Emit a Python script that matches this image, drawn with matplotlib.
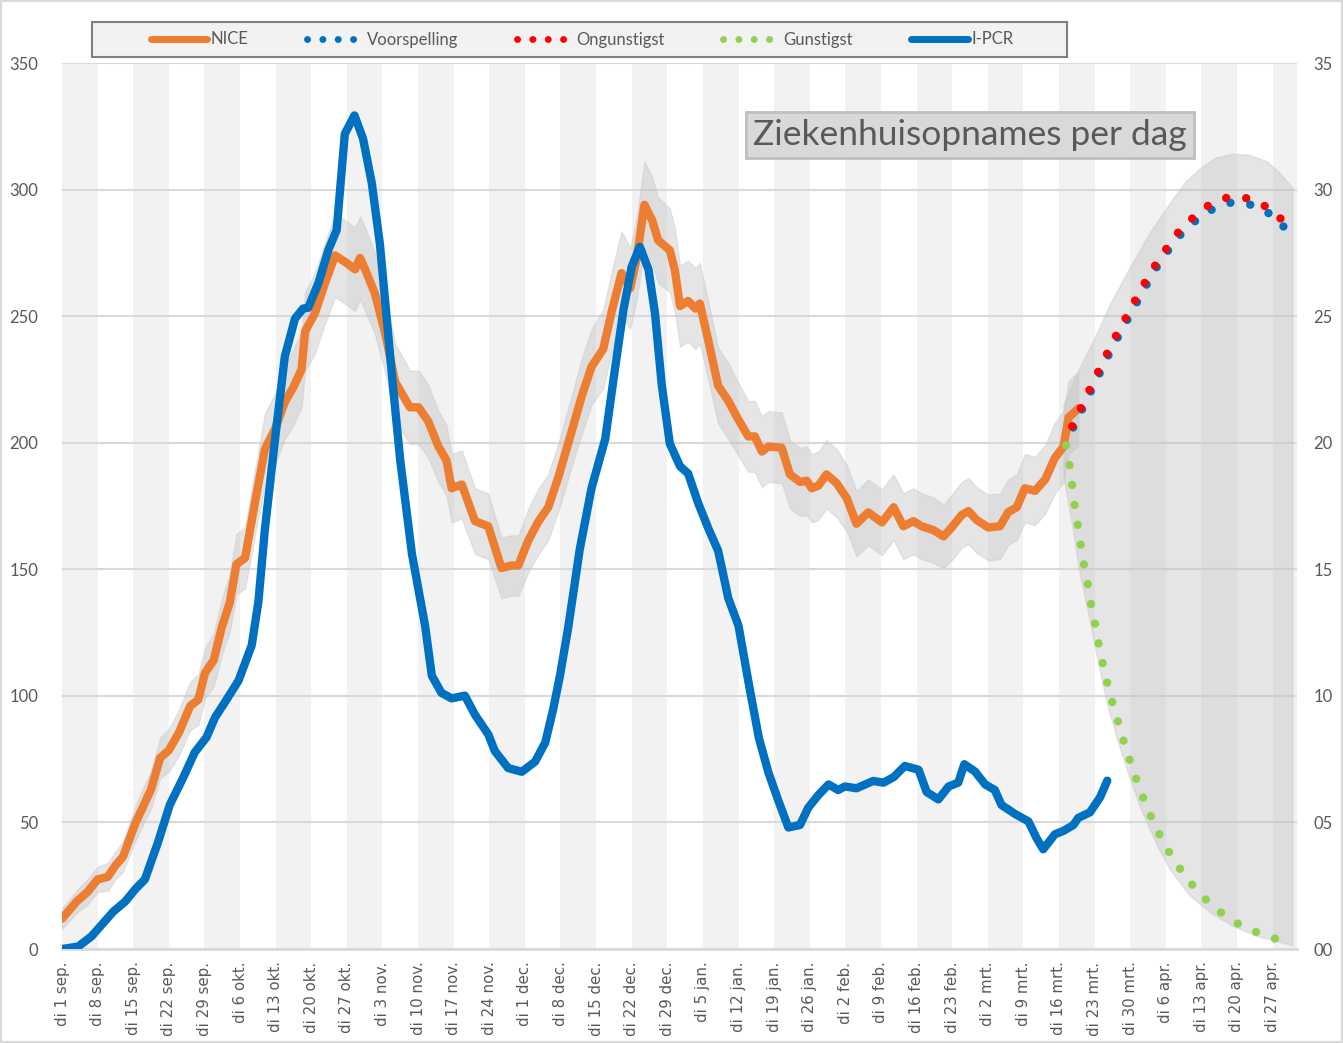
import matplotlib
matplotlib.use("Agg")
import matplotlib.pyplot as plt
from matplotlib.lines import Line2D
from matplotlib.patches import Rectangle
import numpy as np

plt.rcParams['font.family'] = ['Lato', 'DejaVu Sans']

# days counted from di 1 sep. 2020
week_labels = ["di 1 sep.", "di 8 sep.", "di 15 sep.", "di 22 sep.", "di 29 sep.",
               "di 6 okt.", "di 13 okt.", "di 20 okt.", "di 27 okt.", "di 3 nov.",
               "di 10 nov.", "di 17 nov.", "di 24 nov.", "di 1 dec.", "di 8 dec.",
               "di 15 dec.", "di 22 dec.", "di 29 dec.", "di 5 jan.", "di 12 jan.",
               "di 19 jan.", "di 26 jan.", "di 2 feb.", "di 9 feb.", "di 16 feb.",
               "di 23 feb.", "di 2 mrt.", "di 9 mrt.", "di 16 mrt.", "di 23 mrt.",
               "di 30 mrt.", "di 6 apr.", "di 13 apr.", "di 20 apr.", "di 27 apr."]

# NICE opnames (orange) + half width of its grey band
nice_days = [0, 3, 5, 7, 9, 10.5, 12, 14.5, 17.5, 19.3,
             21, 23, 25.2, 26.8, 28.1, 29.8, 31.4, 33, 34.3, 36,
             37.9, 39.9, 41.9, 43.8, 45.5, 47.1, 47.8, 49.7, 51.7, 53.7,
             55.6, 57.6, 58.6, 59.6, 61.5, 63.5, 65.5, 66.8, 68.4, 70.1,
             72, 74, 75.6, 76.6, 78.6, 81.2, 83.8, 86.4, 88.4, 89.7,
             91.7, 93.7, 95.6, 97.6, 100.2, 102.2, 104.1, 106.4, 108.1, 110,
             111.7, 113, 114.5, 116, 117.2, 119.5, 120.5, 121.5, 123.1, 124.5,
             125.4, 127.1, 129, 131, 132.6, 134.9, 136.2, 137.6, 138.9, 141.5,
             143.1, 145.1, 146.4, 147.4, 148.7, 150.3, 152.3, 154.3, 156.2, 158.5,
             161.2, 163.5, 165.4, 167.4, 169, 171.3, 173.3, 174.9, 176.9, 178.2,
             179.8, 182.1, 184.4, 186, 187.7, 189.3, 191.3, 193.3, 195.2, 196.9,
             197.9, 199.8]
nice_vals = [12, 19, 22.5, 27.5, 28.5, 33, 36.5, 50, 63, 75.5,
             78.5, 85.5, 96, 98.5, 109, 114, 127, 137, 152, 154.5,
             176, 197.5, 205.5, 216, 222, 229, 244, 251, 263, 274,
             271.5, 268.5, 273, 268.5, 259, 243.5, 224, 219.5, 214, 214,
             208.5, 198.5, 193, 182, 183.5, 169, 167, 150.5, 151.5, 151.5,
             161.5, 169, 174.5, 186.5, 204.5, 218.5, 230, 237, 252, 267,
             261, 273, 294, 288, 280, 276, 268, 254, 256, 253,
             255, 240, 222.5, 216.5, 210.5, 202.5, 202.5, 196.5, 198.5, 198,
             187.5, 184.5, 185, 182, 183, 187.5, 184, 178, 168, 172.5,
             168.5, 174.5, 167, 169, 167, 165.5, 163, 166.5, 171.5, 173,
             169.5, 166.5, 167, 172.5, 174.5, 182, 181, 185.5, 194, 198.5,
             210, 213.5]
nice_band = [4, 4.5, 5, 5, 5.5, 5.5, 6, 7, 7.5, 8,
             8.5, 9, 9.5, 10, 10, 10.5, 11, 11.5, 12, 12,
             13, 14, 14, 14.5, 15, 15, 15.5, 16, 16, 16.5,
             16.5, 16.5, 16.5, 16.5, 16, 15.5, 15, 15, 14.5, 14.5,
             14.5, 14, 14, 13.5, 13.5, 13, 13, 12, 12, 12,
             12.5, 13, 13, 13.5, 14, 15, 15, 15.5, 16, 16.5,
             16, 16.5, 17, 17, 17, 16.5, 16.5, 16, 16, 16,
             16, 15.5, 15, 15, 14.5, 14, 14, 14, 14, 14,
             13.5, 13.5, 13.5, 13.5, 13.5, 13.5, 13.5, 13, 13, 13,
             13, 13, 13, 13, 13, 13, 12.5, 13, 13, 13,
             13, 13, 13, 13, 13, 13.5, 13.5, 13.5, 14, 14,
             14.5, 14.5]

# I-PCR (blue)
pcr_days = [0, 3.2, 5.8, 10.1, 12.4, 14.4, 16.3, 18.9, 21.2, 23.9,
            26.1, 28.4, 30.1, 32, 34.7, 37.3, 38.6, 39.9, 41.9, 43.8,
            45.8, 47.4, 48.4, 50.4, 52.4, 54, 55.6, 57.5, 59.2, 60.9,
            62.5, 63.8, 65.1, 66.5, 68.8, 71.4, 72.7, 74.6, 76.6, 79.2,
            81.2, 83.8, 85.1, 87.7, 90.4, 93, 95, 96.6, 97.9, 99.5,
            101.8, 104.1, 106.8, 108.7, 110.4, 112, 113.6, 115.3, 116.6, 117.9,
            119.5, 121.5, 123.1, 125.1, 127.1, 129, 131, 133, 135, 137,
            138.9, 140.8, 142.8, 145.1, 146.7, 148.7, 150.7, 152.6, 153.9, 156.2,
            159.5, 161.5, 163.5, 165.7, 168.4, 170, 172.3, 174.3, 176.2, 177.4,
            179.5, 181.5, 183.4, 184.7, 187.4, 190, 191.6, 192.9, 195.2, 196.9,
            198.8, 199.8, 202.1, 204.1, 205.5]
pcr_vals = [0, 1, 5, 14.8, 18.7, 23.6, 27.5, 42.3, 57, 68,
            77.7, 83.6, 91.5, 97.4, 106, 120, 137, 166, 201.7, 234,
            249, 253, 253.3, 263, 276.3, 284, 322, 329.3, 320, 302.6,
            278.5, 250, 221.6, 193, 156, 127.5, 108, 101.2, 99, 100.1,
            92.5, 84.8, 78.2, 71.5, 70, 74, 81.5, 95, 108, 126.7,
            158, 182, 201.5, 229, 252.7, 269.5, 277.4, 268.5, 250.8, 223,
            199.6, 190.7, 187.8, 176, 166, 157.3, 138.5, 127.7, 105, 83.4,
            69.6, 58.8, 48, 49, 55.8, 60.8, 65, 62.8, 64.2, 63.5,
            66.4, 65.7, 67.9, 72.3, 70.8, 62, 59.1, 64.2, 65.7, 73,
            70.1, 65, 62.8, 56.9, 53.3, 50.4, 43.8, 39.4, 45.3, 46.7,
            48.9, 51.8, 54, 60, 66.5]

# forecasts
fc_days = [198.8, 200.5, 202.2, 203.9, 205.6, 207.4, 209.3, 211.2, 213.1, 215.1,
           217.3, 219.7, 222.6, 226, 230, 233.7, 237.3, 240.2, 242.5]
fc_vals = [206, 213, 220, 227, 234, 241, 248, 255, 262, 269,
           275.5, 281.8, 287.3, 292, 295, 294, 290.6, 285.3, 281]
worst_days = [198.6, 200.3, 202, 203.7, 205.4, 207.2, 209.1, 211, 212.9, 214.9,
              217.1, 219.4, 222.2, 225.3, 228.8, 232.7, 236.4, 239.5, 242.1]
worst_vals = [206.5, 213.7, 220.9, 228, 235, 242.2, 249.2, 256.3, 263.3, 270,
              276.6, 283, 288.6, 293.6, 296.7, 296.7, 293.6, 288.7, 282.8]
best_days = [197.4, 198.1, 198.6, 199.1, 199.7, 200.3, 200.9, 201.7, 202.3, 203.1,
             203.8, 204.6, 205.5, 206.5, 207.6, 208.7, 209.9, 211.2, 212.6, 214.1,
             215.8, 217.7, 219.8, 222.2, 224.9, 227.8, 231.2, 234.8, 238.5]
best_vals = [199, 191, 183, 175, 167.6, 159.6, 151.9, 144, 136.4, 128.4,
             120.6, 112.8, 105, 97.5, 89.9, 82.3, 74.7, 67.1, 59.5, 52.3,
             45.1, 38.2, 31.7, 25.4, 19.5, 14.5, 10, 6.7, 4.1]

# forecast uncertainty area
env_up_days = [197, 198.5, 200, 202.7, 206, 210, 214, 218.4, 221, 224.3,
               227, 230.2, 233.5, 236.9, 239.5, 242]
env_up_vals = [215, 222, 229, 239.5, 254, 269, 283, 296, 303, 309,
               312.5, 314, 313.5, 311, 306.5, 300.5]
env_lo_days = [197, 198.8, 200, 202.1, 203.8, 205.5, 207.5, 209.4, 212, 215.3,
               218, 221.8, 226, 230.2, 235, 242]
env_lo_vals = [186, 166, 150, 130, 113, 97, 83, 71, 56, 41,
               31, 21, 14, 9, 5, 1.3]

ORANGE = '#ED7D31'
BLUE = '#0070C0'
RED = '#FF0000'
GREEN = '#92D050'
TXT = '#595959'
XMAX = 242.8

fig = plt.figure(figsize=(13.43, 10.43), dpi=100)
ax = fig.add_axes([62 / 1343, 94 / 1043, 1235 / 1343, 886 / 1043])

# alternating week columns
for k in range(0, len(week_labels), 2):
    ax.axvspan(7 * k, 7 * k + 7, color='#f2f2f2', lw=0, zorder=0)

nd = np.array(nice_days)
nv = np.array(nice_vals)
nb = np.array(nice_band)
ax.fill_between(nd, nv - nb, nv + nb, facecolor='#bfbfbf', alpha=0.4,
                edgecolor='#c8c8c8', lw=1, zorder=2)
ax.fill(np.concatenate([env_up_days, env_lo_days[::-1]]),
        np.concatenate([env_up_vals, env_lo_vals[::-1]]),
        facecolor='#bfbfbf', alpha=0.4, edgecolor='#c8c8c8', lw=1.2, zorder=2)

ax.plot(nice_days, nice_vals, color=ORANGE, lw=6, solid_capstyle='round',
        solid_joinstyle='round', zorder=3)
dots = (0, (0.01, 2.4))
ax.plot(best_days, best_vals, color=GREEN, lw=6, ls=dots, dash_capstyle='round', zorder=4)
ax.plot(fc_days, fc_vals, color=BLUE, lw=6, ls=dots, dash_capstyle='round', zorder=4)
ax.plot(worst_days, worst_vals, color=RED, lw=6, ls=dots, dash_capstyle='round', zorder=5)
ax.plot(pcr_days, pcr_vals, color=BLUE, lw=6, solid_capstyle='round',
        solid_joinstyle='round', zorder=6)

ax.set_xlim(0, XMAX)
ax.set_ylim(0, 350)
ax.set_yticks(range(0, 351, 50))
ax.set_axisbelow(True)
ax.yaxis.grid(True, color='#d9d9d9', lw=1.5)
ax.set_xticks([7 * k for k in range(len(week_labels))])
ax.set_xticklabels(week_labels, rotation=90, fontsize=10.8, color=TXT,
                   family='DejaVu Sans')
ax.tick_params(axis='x', length=0, pad=9)
ax.tick_params(axis='y', length=0, pad=17, labelsize=12, labelcolor=TXT)
for s in ['left', 'right', 'top']:
    ax.spines[s].set_visible(False)
ax.spines['bottom'].set_color('#d9d9d9')
ax.spines['bottom'].set_linewidth(2)

ax2 = ax.twinx()
ax2.set_ylim(0, 35)
ax2.set_yticks(range(0, 36, 5))
ax2.set_yticklabels([f"{v:02d}" for v in range(0, 36, 5)])
ax2.tick_params(axis='y', length=0, pad=12, labelsize=12, labelcolor=TXT)
for s in ax2.spines.values():
    s.set_visible(False)

# legend
fig.add_artist(Rectangle((92 / 1343, 1 - 57 / 1043), 975 / 1343, 35 / 1043,
                         transform=fig.transFigure, facecolor='#f2f2f2',
                         edgecolor='#7f7f7f', lw=1.5, zorder=1))
ldots = (0, (0.01, 2.2))
handles = [Line2D([], [], color=ORANGE, lw=5, solid_capstyle='round'),
           Line2D([], [], color=BLUE, lw=5, ls=ldots, dash_capstyle='round'),
           Line2D([], [], color=RED, lw=5, ls=ldots, dash_capstyle='round'),
           Line2D([], [], color=GREEN, lw=5, ls=ldots, dash_capstyle='round'),
           Line2D([], [], color=BLUE, lw=5, solid_capstyle='round')]
labels = ["NICE", "Voorspelling", "Ongunstigst", "Gunstigst", "I-PCR"]
leg = fig.legend(handles, labels, loc='center', ncol=5, frameon=False,
                 bbox_to_anchor=(582 / 1343, 1 - 39.5 / 1043), fontsize=12,
                 handlelength=3.4, handletextpad=0.2, columnspacing=3.5,
                 labelcolor=TXT)
leg.set_zorder(3)

fig.text(970 / 1343, 1 - 135 / 1043, "Ziekenhuisopnames per dag", fontsize=25.5,
         color=TXT, ha='center', va='center',
         bbox=dict(boxstyle='square,pad=0.2', facecolor='#d9d9d9',
                   edgecolor='#bfbfbf', lw=2))

fig.add_artist(Rectangle((0, 0), 1, 1, transform=fig.transFigure, fill=False,
                         edgecolor='#d9d9d9', lw=3))

fig.savefig("out.png", dpi=100)
